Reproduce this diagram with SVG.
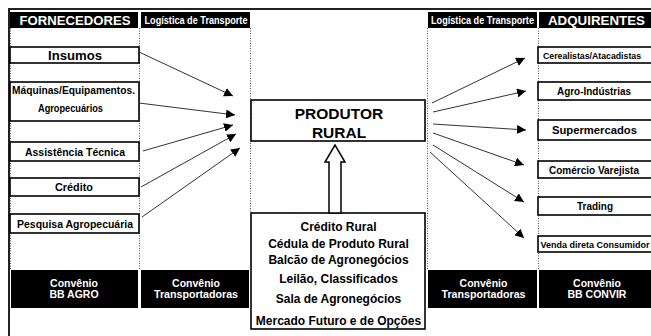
<svg xmlns="http://www.w3.org/2000/svg" width="651" height="336" viewBox="0 0 651 336">
<defs>
<style>
.t{font-family:"Liberation Sans",Arial,sans-serif;font-weight:bold;fill:#000;text-anchor:middle}
.w{fill:#fff}
.hdr{fill:#000}
.box{fill:#fff;stroke:#000;stroke-width:1.6}
.dot{stroke:#555;stroke-width:1;stroke-dasharray:1,1.5;fill:none}
.ar{stroke:#333;stroke-width:1;fill:none;marker-end:url(#ah)}
</style>
<marker id="ah" viewBox="0 0 10 10" refX="10" refY="5" markerWidth="9" markerHeight="9" markerUnits="userSpaceOnUse" orient="auto">
<path d="M0,0 L10,5 L0,10 Z" fill="#000"/>
</marker>
</defs>
<rect width="651" height="336" fill="#fff"/>
<g id="frame">
<line x1="8" y1="9" x2="651" y2="9" stroke="#222" stroke-width="2"/>
<line x1="9" y1="8" x2="9" y2="336" stroke="#222" stroke-width="2"/>
</g>
<g id="guides">
<line class="dot" x1="10.5" y1="28" x2="10.5" y2="270"/>
<line class="dot" x1="139.5" y1="28" x2="139.5" y2="270"/>
<line class="dot" x1="250.5" y1="28" x2="250.5" y2="213"/>
<line class="dot" x1="427.5" y1="28" x2="427.5" y2="270"/>
<line class="dot" x1="538.5" y1="28" x2="538.5" y2="270"/>
</g>
<g id="header-fornecedores">
<rect class="hdr" x="10" y="12" width="128" height="16"/>
<text class="t w" x="75" y="25" font-size="13.5" font-weight="normal" textLength="111" lengthAdjust="spacingAndGlyphs">FORNECEDORES</text>
</g>
<g id="header-logistica-1">
<rect class="hdr" x="141" y="12" width="109" height="16"/>
<text class="t w" x="196" y="24" font-size="10" textLength="103" lengthAdjust="spacingAndGlyphs">Logística de Transporte</text>
</g>
<g id="header-logistica-2">
<rect class="hdr" x="428" y="12" width="109" height="16"/>
<text class="t w" x="482.5" y="24" font-size="10" textLength="103" lengthAdjust="spacingAndGlyphs">Logística de Transporte</text>
</g>
<g id="header-adquirentes">
<rect class="hdr" x="539" y="12" width="112" height="16"/>
<text class="t w" x="596.5" y="25" font-size="13.5" font-weight="normal" textLength="97" lengthAdjust="spacingAndGlyphs">ADQUIRENTES</text>
</g>
<g id="insumos">
<rect class="box" x="10" y="47" width="129" height="16"/>
<text class="t" x="75" y="59.5" font-size="12.5" font-weight="normal" textLength="54" lengthAdjust="spacingAndGlyphs">Insumos</text>
</g>
<g id="maquinas">
<rect class="box" x="10" y="82" width="129" height="39"/>
<text class="t" x="73.5" y="94" font-size="10.5" textLength="123" lengthAdjust="spacingAndGlyphs">Máquinas/Equipamentos.</text>
<text class="t" x="70.5" y="112" font-size="11" textLength="65" lengthAdjust="spacingAndGlyphs">Agropecuários</text>
</g>
<g id="assistencia">
<rect class="box" x="10" y="142" width="129" height="19"/>
<text class="t" x="75" y="155.5" font-size="10.5" textLength="100" lengthAdjust="spacingAndGlyphs">Assistência Técnica</text>
</g>
<g id="credito">
<rect class="box" x="10" y="178" width="129" height="18"/>
<text class="t" x="74" y="191" font-size="10.5" textLength="38" lengthAdjust="spacingAndGlyphs">Crédito</text>
</g>
<g id="pesquisa">
<rect class="box" x="10" y="214" width="129" height="19"/>
<text class="t" x="75" y="227.5" font-size="10.5" textLength="116" lengthAdjust="spacingAndGlyphs">Pesquisa Agropecuária</text>
</g>
<g id="cerealistas">
<rect class="box" x="538" y="47" width="116" height="16"/>
<text class="t" x="592" y="58.5" font-size="9" textLength="98" lengthAdjust="spacingAndGlyphs">Cerealistas/Atacadistas</text>
</g>
<g id="agroindustrias">
<rect class="box" x="538" y="82" width="116" height="18"/>
<text class="t" x="594" y="95" font-size="10.5" textLength="74" lengthAdjust="spacingAndGlyphs">Agro-Indústrias</text>
</g>
<g id="supermercados">
<rect class="box" x="538" y="120" width="116" height="20"/>
<text class="t" x="594.5" y="134" font-size="10.5" textLength="85" lengthAdjust="spacingAndGlyphs">Supermercados</text>
</g>
<g id="comercio">
<rect class="box" x="538" y="161" width="116" height="17"/>
<text class="t" x="594" y="173.5" font-size="10.5" textLength="90" lengthAdjust="spacingAndGlyphs">Comércio Varejista</text>
</g>
<g id="trading">
<rect class="box" x="538" y="197" width="116" height="18"/>
<text class="t" x="595" y="210" font-size="10.5" textLength="36" lengthAdjust="spacingAndGlyphs">Trading</text>
</g>
<g id="venda">
<rect class="box" x="538" y="236" width="116" height="16"/>
<text class="t" x="595" y="247.5" font-size="8.5" textLength="109" lengthAdjust="spacingAndGlyphs">Venda direta Consumidor</text>
</g>
<g id="convenio-bbagro">
<rect class="hdr" x="11" y="270" width="127" height="38"/>
<text class="t w" x="74" y="287" font-size="10.5">Convênio</text>
<text class="t w" x="74" y="297.5" font-size="10.5">BB AGRO</text>
</g>
<g id="convenio-transp-1">
<rect class="hdr" x="141" y="270" width="108" height="38"/>
<text class="t w" x="196" y="287" font-size="10.5">Convênio</text>
<text class="t w" x="196" y="297.5" font-size="10.5" textLength="84" lengthAdjust="spacingAndGlyphs">Transportadoras</text>
</g>
<g id="convenio-transp-2">
<rect class="hdr" x="428" y="270" width="109" height="38"/>
<text class="t w" x="483.5" y="287" font-size="10.5">Convênio</text>
<text class="t w" x="483.5" y="297.5" font-size="10.5" textLength="84" lengthAdjust="spacingAndGlyphs">Transportadoras</text>
</g>
<g id="convenio-bbconvir">
<rect class="hdr" x="539" y="270" width="112" height="38"/>
<text class="t w" x="597" y="287" font-size="10.5">Convênio</text>
<text class="t w" x="597" y="297.5" font-size="10.5">BB CONVIR</text>
</g>
<g id="produtor">
<rect class="box" x="251" y="100" width="174" height="41" stroke-width="1.8"/>
<text class="t" x="339" y="118.5" font-size="15.5">PRODUTOR</text>
<text class="t" x="339" y="137.5" font-size="15.5">RURAL</text>
</g>
<g id="servicos">
<rect class="box" x="251" y="213" width="174" height="116" stroke-width="2.4"/>
<text class="t" x="338.5" y="230.5" font-size="12">Crédito Rural</text>
<text class="t" x="338.5" y="247.5" font-size="12">Cédula de Produto Rural</text>
<text class="t" x="338.5" y="263.5" font-size="12">Balcão de Agronegócios</text>
<text class="t" x="338.5" y="282.5" font-size="12">Leilão, Classificados</text>
<text class="t" x="338.5" y="302.5" font-size="12">Sala de Agronegócios</text>
<text class="t" x="338.5" y="324.5" font-size="12">Mercado Futuro e de Opções</text>
</g>
<g id="connectors">
<line class="ar" x1="139" y1="52" x2="233" y2="96"/>
<line class="ar" x1="139" y1="103" x2="235" y2="115"/>
<line class="ar" x1="143" y1="151" x2="233" y2="125"/>
<line class="ar" x1="141" y1="187" x2="236" y2="134"/>
<line class="ar" x1="142" y1="217" x2="240" y2="148"/>
<line class="ar" x1="432" y1="103" x2="525" y2="58"/>
<line class="ar" x1="433" y1="112" x2="526" y2="91"/>
<line class="ar" x1="433" y1="124" x2="526" y2="130"/>
<line class="ar" x1="433" y1="133" x2="524" y2="165"/>
<line class="ar" x1="433" y1="145" x2="524" y2="202"/>
<line class="ar" x1="430" y1="152" x2="524" y2="238"/>
<polygon points="329,213 329,162 325,162 335,145 345,162 341,162 341,213" fill="#fff" stroke="#000" stroke-width="1.5"/>
</g>
</svg>
